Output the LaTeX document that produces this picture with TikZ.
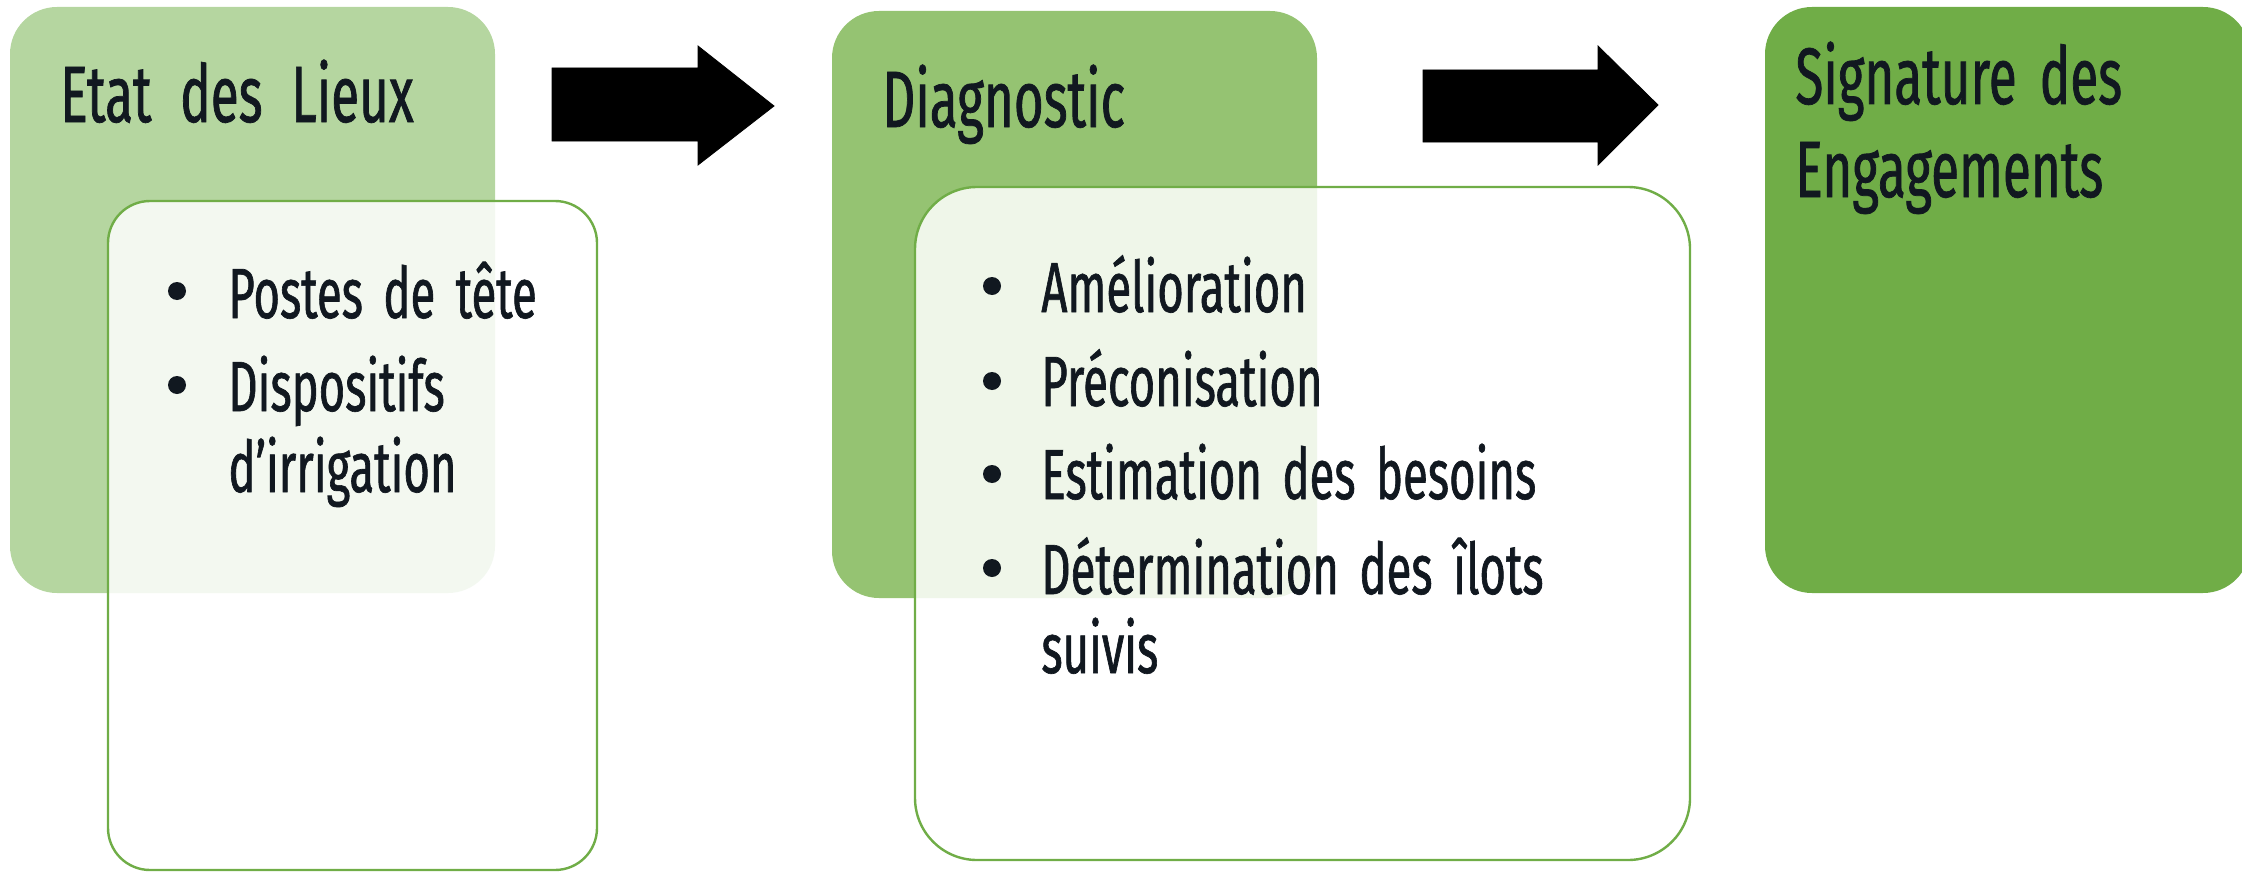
\documentclass[tikz,border=0pt]{standalone}
\usepackage{fontspec}
\setmainfont{Fira Sans}[FakeStretch=0.64, WordSpace=1.7, FakeBold=0.9]
\usetikzlibrary{fit}
\definecolor{ink}{HTML}{111820}
\definecolor{accent}{HTML}{70AD47}
\definecolor{gA}{HTML}{B5D6A0}
\definecolor{gB}{HTML}{95C372}
\definecolor{gC}{HTML}{70AD47}
\tikzset{
  txt/.style={inner sep=0pt, anchor=base west, text=ink},
  ttl/.style={txt, font=\fontsize{40}{46}\selectfont},
  itm/.style={txt, font=\fontsize{35.5}{40}\selectfont},
  dot/.style={circle, fill=ink, inner sep=0pt, minimum size=9pt},
  panel/.style={inner sep=0pt, rounded corners=23.5pt},
  card/.style={inner sep=0pt, draw=accent, line width=1.2pt, fill=white, fill opacity=0.85, draw opacity=1},
  blockarrow/.style={fill=black}
}
\begin{document}
\begin{tikzpicture}[x=0.5pt,y=-0.5pt]
\useasboundingbox (0,0) rectangle (2242,872);
\clip (0,0) rectangle (2242,872);
% panels
\node[panel, fill=gA, fit={(10,7) (495,593)}] (box1) {};
\node[panel, fill=gB, fit={(832,11) (1317,598)}] (box2) {};
\node[panel, fill=gC, fit={(1765,7) (2250,593)}] (box3) {};
% cards
\node[card, rounded corners=21pt, fit={(108,201) (597,870)}] (card1) {};
\node[card, rounded corners=31pt, fit={(915,187) (1690,860)}] (card2) {};
% arrows
\draw[blockarrow] (552,68) -- (698,68) -- (698,46) -- (774,106) -- (698,165) -- (698,141) -- (552,141) -- cycle;
\draw[blockarrow] (1423,70) -- (1598,70) -- (1598,46) -- (1658,105) -- (1598,165) -- (1598,142) -- (1423,142) -- cycle;
% titles
\node[ttl] (t1) at (60,122) {Etat\hspace{2.8pt} des\hspace{2.8pt} Lieux};
\node[ttl] (t2) at (882,127) {Diagnostic};
\node[ttl] (t3a) at (1795,104) {Signature des};
\node[ttl] (t3b) at (1795,197) {Engagements};
% items card 1
\node[dot] (d11) at (177,291) {};
\node[itm] (i11) at (228,318) {Postes de tête};
\node[dot] (d12) at (177,385) {};
\node[itm] (i12) at (228,411) {Dispositifs};
\node[itm] (i12b) at (228,492) {d’irrigation};
% items card 2
\node[dot] (d21) at (992,286) {};
\node[itm] (i21) at (1041,312) {Amélioration};
\node[dot] (d22) at (992,381) {};
\node[itm] (i22) at (1041,406) {Préconisation};
\node[dot] (d23) at (992,474) {};
\node[itm] (i23) at (1041,499) {Estimation des besoins};
\node[dot] (d24) at (992,568) {};
\node[itm] (i24) at (1041,594) {Détermination des îlots};
\node[itm] (i24b) at (1041,673) {suivis};
\end{tikzpicture}
\end{document}
